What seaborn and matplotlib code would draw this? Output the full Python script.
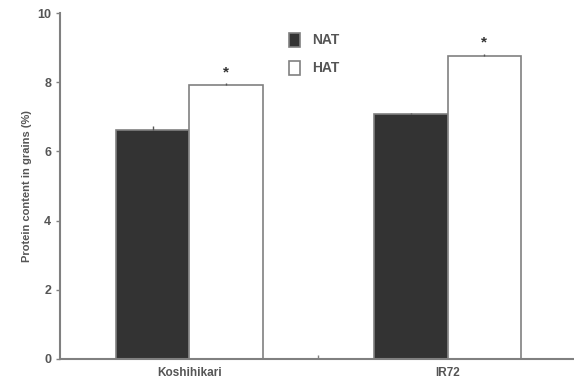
import matplotlib
matplotlib.use("Agg")
import matplotlib.pyplot as plt
import seaborn as sns
import pandas as pd

cultivars = ["Koshihikari", "IR72"]
treatments = ["NAT", "HAT"]
nat_values = [6.62, 7.07]
hat_values = [7.92, 8.77]
nat_err = [0.12, 0.04]
hat_err = [0.05, 0.05]

sns.set_theme(style="ticks")
plt.rcParams["font.family"] = ["Liberation Sans", "DejaVu Sans"]
plt.rcParams["font.weight"] = "bold"

df = pd.DataFrame({
    "cultivar": cultivars * 2,
    "treatment": ["NAT"] * 2 + ["HAT"] * 2,
    "protein": nat_values + hat_values,
    "err": nat_err + hat_err,
})

axis_col = "#808080"
text_col = "#555555"

fig = plt.figure(figsize=(5.74, 3.86), dpi=100)
ax = fig.add_axes([0.105, 0.07, 0.895, 0.896])

sns.barplot(data=df, x="cultivar", y="protein", hue="treatment",
            order=cultivars, hue_order=treatments,
            palette={"NAT": "#333333", "HAT": "white"},
            width=0.57, errorbar=None, edgecolor=axis_col, linewidth=1.2,
            saturation=1, ax=ax)

# error bars and stars from the bar patches
for patch, (_, row) in zip(ax.patches[:4], df.iterrows()):
    cx = patch.get_x() + patch.get_width() / 2
    top = patch.get_height()
    ax.errorbar(cx, top, yerr=[[0], [row["err"]]], fmt="none",
                ecolor="#555555", elinewidth=1, capsize=0)
    if row["treatment"] == "HAT":
        ax.text(cx, top + 0.37, "*", ha="center", va="center",
                fontsize=11, color="#333333")

ax.set_xlim(-0.5, 1.49)
ax.set_ylim(0, 10)
ax.set_yticks([0, 2, 4, 6, 8, 10])
ax.set_xlabel("")
ax.set_ylabel("Protein content in grains (%)", fontsize=8, color=text_col,
              fontweight="bold")
ax.tick_params(axis="y", labelsize=9, colors=axis_col, labelcolor=text_col,
               length=3, width=1)
ax.tick_params(axis="x", labelsize=8.5, labelcolor=text_col, length=0, pad=6)
ax.set_xticks([0.5], minor=True)
ax.tick_params(axis="x", which="minor", direction="in", length=3,
               colors=axis_col)

sns.despine(ax=ax)
for side in ["left", "bottom"]:
    ax.spines[side].set_color(axis_col)
    ax.spines[side].set_linewidth(1.5)

leg = ax.legend(loc="upper left", bbox_to_anchor=(0.42, 0.98), frameon=False,
                fontsize=10, handlelength=0.8, handleheight=1.2,
                labelspacing=0.95, handletextpad=0.9)
for t in leg.get_texts():
    t.set_color(text_col)
    t.set_fontweight("bold")

fig.savefig("out.png", dpi=100)
